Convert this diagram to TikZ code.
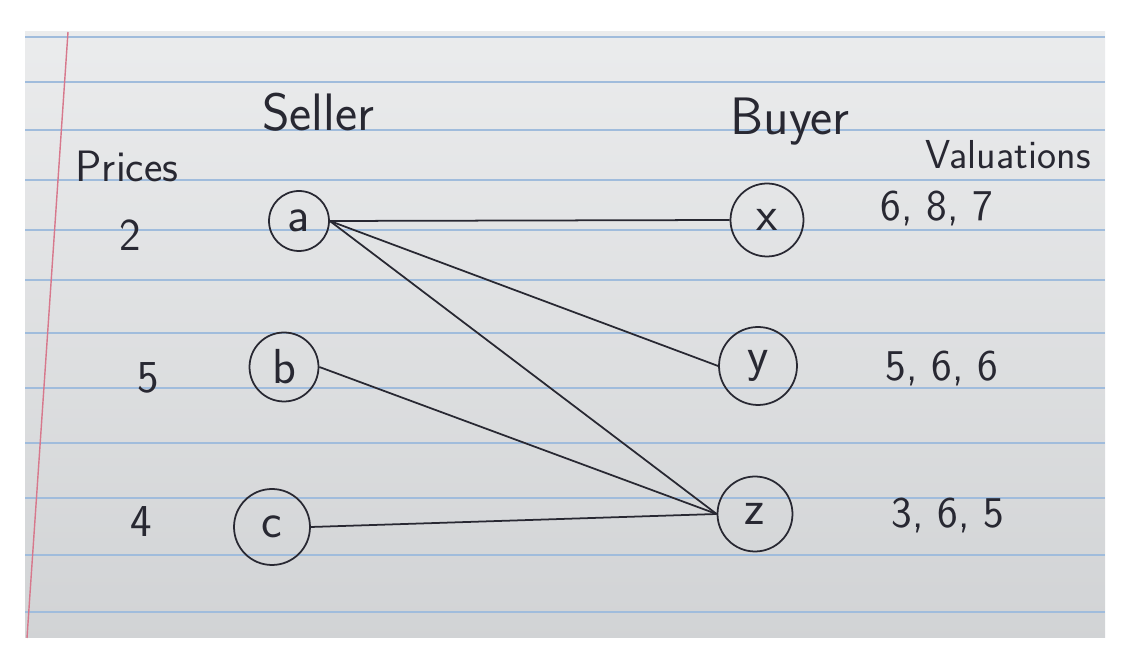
\documentclass[tikz,border=0pt]{standalone}
\usepackage{fontspec}
\usepackage{xcolor}
\definecolor{ink}{RGB}{40,40,50}
\definecolor{paper}{RGB}{218,220,222}
\definecolor{rule}{RGB}{160,188,220}
\definecolor{margin}{RGB}{215,120,140}

\begin{document}
\begin{tikzpicture}[x=0.02cm,y=-0.02cm,line width=1pt,
  vert/.style={circle,draw=ink,text=ink,inner sep=0pt,font=\sffamily\fontsize{28}{30}\selectfont},
  hand/.style={text=ink,inner sep=0pt,font=\sffamily\fontsize{#1}{#1}\selectfont}]

\useasboundingbox (0,0) rectangle (1134,671);

% the lined sheet
\shade[top color=paper!55!white,bottom color=paper!96!black] (25,32) rectangle (1105,638);
\foreach \yy in {37,82,130,180,230,280,333,388,443,498,555,612}
\draw[rule,line width=1.6pt] (25,\yy) -- (1105,\yy);
\draw[margin,line width=0.8pt] (68,32) -- (27,638);

% sellers and buyers
\foreach \n/\px/\py/\s in {a/299/221/1.2, b/284/367/1.38, c/272/527/1.52, x/767/220/1.46, y/758/366/1.56, z/755/514/1.5}
\draw (\px,\py) node[vert,minimum size=\s cm] (\n) {\n};

\foreach \u/\v in {a/x,a/y,a/z,b/z,c/z}
\draw[ink] (\u.east) -- (\v.west);

% headings
\node[hand=30] (seller) at (318,112) {Seller};
\node[hand=30] (buyer) at (790,122) {Buyer};
\node[hand=25] (prices) at (127,166) {Prices};
\node[hand=23] (valuations) at (1008,155) {Valuations};

% prices and valuations
\foreach [count=\i] \t/\px/\py in {2/130/235, 5/148/378, 4/141/522}
\draw (\px,\py) node[hand=26] (p\i) {\t};

\foreach [count=\i] \t/\px/\py in {{6, 8, 7}/937/208, {5, 6, 6}/942/368, {3, 6, 5}/948/515}
\draw (\px,\py) node[hand=25] (v\i) {\t};

\end{tikzpicture}
\end{document}
